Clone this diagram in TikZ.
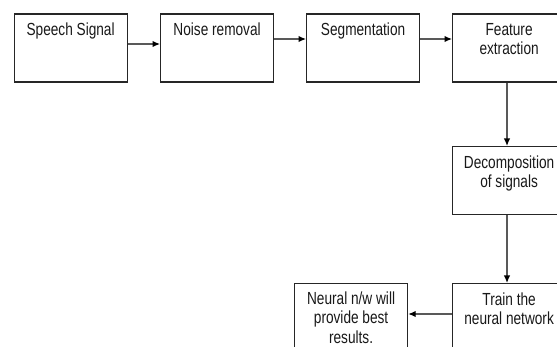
\documentclass[tikz,border=0pt]{standalone}
\usepackage{fontspec}
\setmainfont{Liberation Sans}[FakeStretch=0.78]
\usetikzlibrary{arrows.meta,calc}
\begin{document}
\begin{tikzpicture}[x=1pt,y=-1pt,
  box/.style={draw=black!85, line width=1.2pt, minimum width=113pt, minimum height=68pt, anchor=north west, inner sep=0pt},
  lbl/.style={anchor=north, yshift=-7.5pt, align=center, inner sep=2pt, text=black!90, font=\fontsize{17.5}{19.5}\selectfont},
  arr/.style={draw=black!65, line width=1.3pt, -{Latex[length=7.5pt,width=6.5pt,black]}}]
\useasboundingbox (0,0) rectangle (557,347);
\fill[white] (0,0) rectangle (557,347);
\clip (0,0) rectangle (557,347);
\node[box, label={[lbl]north:Speech Signal}] (b1) at (13.5,13.5) {};
\node[box, label={[lbl]north:Noise removal}] (b2) at (160,13.5) {};
\node[box, label={[lbl]north:Segmentation}] (b3) at (306,13.5) {};
\node[box, label={[lbl]north:Feature\\extraction}] (b4) at (452,13.5) {};
\node[box, label={[lbl]north:Decomposition\\of signals}] (b5) at (452,146) {};
\node[box, label={[lbl]north:Train the\\neural network}] (b6) at (452,283) {};
\node[box, label={[lbl,yshift=1pt]north:Neural n/w will\\provide best\\results.}] (b7) at (294,283) {};
\draw[arr] ($(b1.north east)+(0,30.5)$) -- ($(b2.north west)+(0,30.5)$);
\draw[arr] ($(b2.north east)+(0,25.5)$) -- ($(b3.north west)+(0,25.5)$);
\draw[arr] ($(b3.north east)+(0,25.5)$) -- ($(b4.north west)+(0,25.5)$);
\draw[arr] ($(b4.south west)+(55,0)$) -- ($(b5.north west)+(55,0)$);
\draw[arr] ($(b5.south west)+(55,0)$) -- ($(b6.north west)+(55,0)$);
\draw[arr] ($(b6.north west)+(0,31)$) -- ($(b7.north east)+(0,31)$);
\end{tikzpicture}
\end{document}
